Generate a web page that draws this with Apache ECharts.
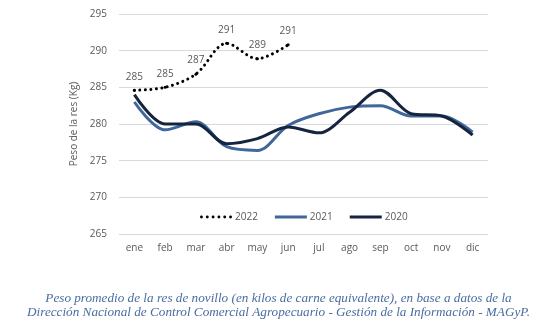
<!DOCTYPE html>
<html><head><meta charset="utf-8">
<script src="https://cdn.jsdelivr.net/npm/echarts@6/dist/echarts.min.js"></script>
<style>html,body{margin:0;padding:0;background:#fff}#c{width:557px;height:336px}</style>
</head><body><div id="c"></div>
<script>
var months = ['ene','feb','mar','abr','may','jun','jul','ago','sep','oct','nov','dic'];
var s2022 = [284.6, 285.0, 286.8, 291.0, 288.9, 290.8];
var s2021 = [283.0, 279.2, 280.3, 276.9, 276.4, 279.8, 281.4, 282.3, 282.5, 281.1, 281.1, 278.9];
var s2020 = [284.0, 280.0, 280.0, 277.3, 278.0, 279.6, 278.8, 281.6, 284.6, 281.4, 281.1, 278.5];
var yTicks = {min: 265, max: 295, interval: 5};
var caption1 = 'Peso promedio de la res de novillo (en kilos de carne equivalente), en base a datos de la';
var caption2 = 'Dirección Nacional de Control Comercial Agropecuario - Gestión de la Información - MAGyP.';

var dot = function(x){return 'M'+x+',1.5a1.5,1.5 0 1,0 3,0a1.5,1.5 0 1,0 -3,0z';};
var dotsPath = 'path://';
for (var i=0;i<6;i++) dotsPath += dot(i*6);

var chart = echarts.init(document.getElementById('c'), null, {renderer:'canvas'});
var FF = 'Open Sans';
var axisFont = {color:'#595959', fontSize:10, fontFamily:FF};
chart.setOption({
  animation:false,
  grid:{left:119, right:69, top:14, bottom:102},
  legend:{
    data:[{name:'2022', icon:dotsPath},{name:'2021', icon:'rect'},{name:'2020', icon:'rect'}],
    top:207, left:195,
    itemWidth:32, itemHeight:3, itemGap:17,
    textStyle:{color:'#595959', fontSize:10, fontFamily:FF, padding:[0,0,0,-2]}
  },
  xAxis:{type:'category', data:months, boundaryGap:true,
    axisLine:{show:false}, axisTick:{show:false},
    axisLabel:Object.assign({margin:9}, axisFont)},
  yAxis:{type:'value', min:yTicks.min, max:yTicks.max, interval:yTicks.interval,
    name:'Peso de la res (Kg)', nameLocation:'middle', nameGap:31, nameRotate:90,
    nameTextStyle:{color:'#595959', fontSize:10, fontFamily:FF},
    axisLine:{show:false}, axisTick:{show:false},
    axisLabel:Object.assign({margin:12}, axisFont),
    splitLine:{lineStyle:{color:'#d9d9d9', width:1}}},
  series:[
    {name:'2022', type:'line', data:s2022, smooth:0.33, symbol:'circle', symbolSize:3, showSymbol:true,
      lineStyle:{color:'#000', width:3, type:[0.01,5.5], cap:'round'}, itemStyle:{color:'#000'},
      label:{show:true, position:'top', distance:7, color:'#595959', fontSize:10, fontFamily:FF,
        formatter:function(p){return Math.round(p.value);}}},
    {name:'2021', type:'line', data:s2021, smooth:0.33, symbol:'none',
      lineStyle:{color:'#41679A', width:3}, itemStyle:{color:'#41679A'}},
    {name:'2020', type:'line', data:s2020, smooth:0.33, symbol:'none',
      lineStyle:{color:'#152540', width:3}, itemStyle:{color:'#152540'}}
  ],
  graphic:[
    {type:'text', left:'center', top:292, style:{text:caption1, fill:'#4A6CA2', font:'italic 13.2px "Liberation Serif"'}},
    {type:'text', left:'center', top:306, style:{text:caption2, fill:'#4A6CA2', font:'italic 13.2px "Liberation Serif"'}}
  ]
});
</script></body></html>
